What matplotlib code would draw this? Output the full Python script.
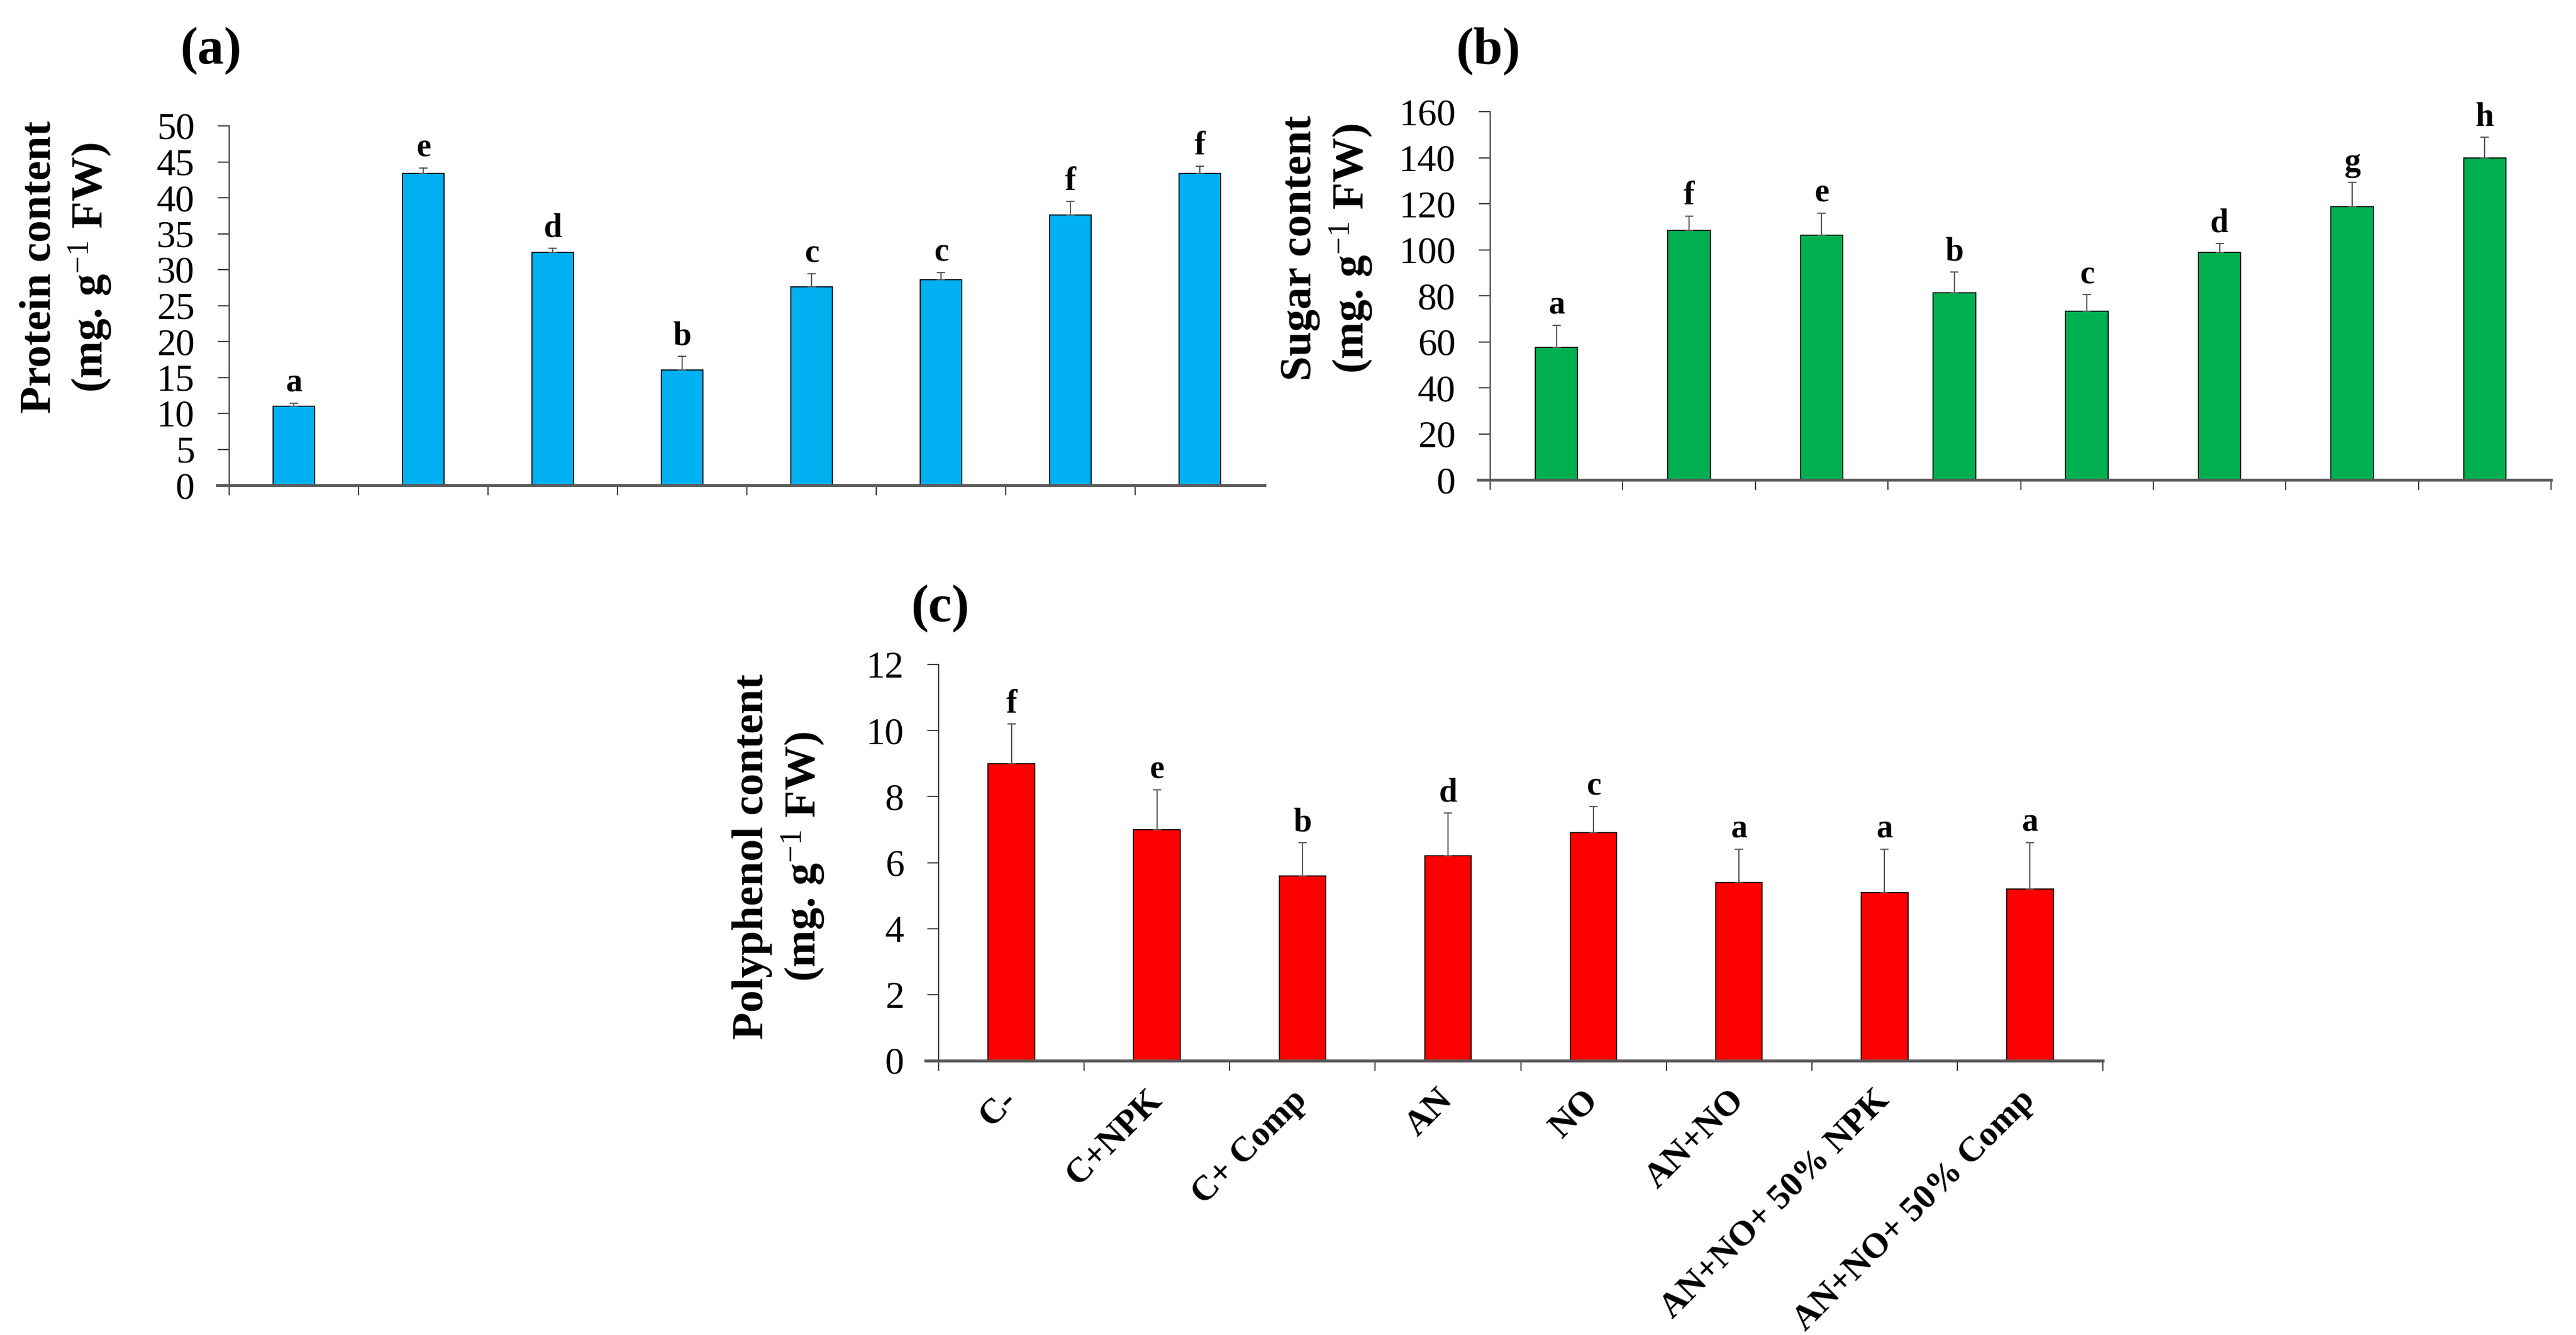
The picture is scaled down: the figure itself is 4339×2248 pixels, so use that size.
import numpy as np
import matplotlib
matplotlib.use("Agg")
import matplotlib.pyplot as plt

plt.rcParams['font.family'] = ['Liberation Serif', 'DejaVu Serif']
plt.rcParams['mathtext.fontset'] = 'custom'
plt.rcParams['mathtext.rm'] = 'Liberation Serif'
plt.rcParams['mathtext.it'] = 'Liberation Serif:italic'
plt.rcParams['mathtext.bf'] = 'Liberation Serif:bold'

treatments = ["C-", "C+NPK", "C+ Comp", "AN", "NO", "AN+NO",
              "AN+NO+ 50% NPK", "AN+NO+ 50% Comp"]

protein = [11.0, 43.4, 32.4, 16.0, 27.6, 28.6, 37.6, 43.4]
protein_err = [0.4, 0.7, 0.6, 1.9, 1.8, 1.0, 1.9, 1.0]
protein_letters = ["a", "e", "d", "b", "c", "c", "f", "f"]

sugar = [57.6, 108.4, 106.4, 81.4, 73.3, 98.9, 118.7, 139.9]
sugar_err = [9.5, 6.2, 9.4, 9.0, 7.1, 3.8, 10.5, 8.9]
sugar_letters = ["a", "f", "e", "b", "c", "d", "g", "h"]

polyphenol = [9.0, 7.0, 5.6, 6.2, 6.9, 5.4, 5.1, 5.2]
polyphenol_err = [1.2, 1.2, 1.0, 1.3, 0.8, 1.0, 1.3, 1.4]
polyphenol_letters = ["f", "e", "b", "d", "c", "a", "a", "a"]

W, H = 4339, 2248
fig = plt.figure(figsize=(W / 100, H / 100), dpi=100)


def px_axes(left, top, right, bottom):
    return fig.add_axes([left / W, 1 - bottom / H, (right - left) / W, (bottom - top) / H])


def panel(ax, vals, errs, letters, color, ymax, ystep, labels=None, last_tick=True):
    x = np.arange(len(vals))
    ax.bar(x, vals, width=0.32, color=color, edgecolor='black', linewidth=1.2, zorder=2)
    ax.errorbar(x, vals, yerr=[np.zeros(len(errs)), errs], fmt='none',
                ecolor='#595959', elinewidth=1.5, capsize=5, capthick=1.5, zorder=3)
    for i in range(len(vals)):
        ax.annotate(letters[i], (x[i], vals[i] + errs[i]), xytext=(0, 14),
                    textcoords='offset points', ha='center', va='baseline',
                    fontsize=40, fontweight='bold')
    ax.set_xlim(-0.5, len(vals) - 0.5)
    ax.set_ylim(0, ymax)
    ax.set_yticks(np.arange(0, ymax + ystep / 2, ystep))
    ax.tick_params(axis='y', labelsize=46, length=14, width=1.5, pad=28,
                   color='#404040')
    edges = np.arange(-0.5, len(vals) if last_tick else len(vals) - 0.5, 1)
    ax.set_xticks(edges)
    ax.set_xticklabels([])
    ax.tick_params(axis='x', which='major', length=12, width=1.5, color='#404040')
    ax.set_xticks(x, minor=True)
    if labels is not None:
        ax.set_xticklabels(labels, minor=True, rotation=45, ha='right', va='center',
                           rotation_mode='anchor', fontsize=43, fontweight='bold')
    ax.tick_params(axis='x', which='minor', length=0, pad=42)
    for s in ['top', 'right']:
        ax.spines[s].set_visible(False)
    ax.spines['left'].set_linewidth(1.5)
    ax.spines['left'].set_color('#404040')
    ax.spines['bottom'].set_linewidth(3.5)
    ax.spines['bottom'].set_color('#595959')
    ax.spines['bottom'].set_bounds(-0.59, len(vals) - 0.5)
    ax.spines['bottom'].set_clip_on(False)


def ylabel(xc, yc, name):
    fig.text(xc / W, 1 - yc / H, name + "\n(mg. g$^{-1}$ FW)", rotation=90,
             ha='center', va='center', multialignment='center',
             fontsize=54, fontweight='bold', linespacing=1.2)


# (a) protein
ax_a = px_axes(386, 212, 2130, 817)
panel(ax_a, protein, protein_err, protein_letters, '#00B0F0', 50, 5, last_tick=False)
ylabel(112, 450, "Protein content")
fig.text(355 / W, 1 - 86 / H, "(a)", ha='center', va='center', fontsize=64, fontweight='bold')

# (b) sugar
ax_b = px_axes(2510, 188, 4297, 808)
panel(ax_b, sugar, sugar_err, sugar_letters, '#00B050', 160, 20)
ylabel(2236, 418, "Sugar content")
fig.text(2506 / W, 1 - 86 / H, "(b)", ha='center', va='center', fontsize=64, fontweight='bold')

# (c) polyphenol
ax_c = px_axes(1581, 1119, 3542, 1786)
panel(ax_c, polyphenol, polyphenol_err, polyphenol_letters, '#FF0000', 12, 2, labels=treatments)
ylabel(1313, 1442, "Polyphenol content")
fig.text(1583 / W, 1 - 1025 / H, "(c)", ha='center', va='center', fontsize=64, fontweight='bold')

fig.savefig("out.png", dpi=100)
